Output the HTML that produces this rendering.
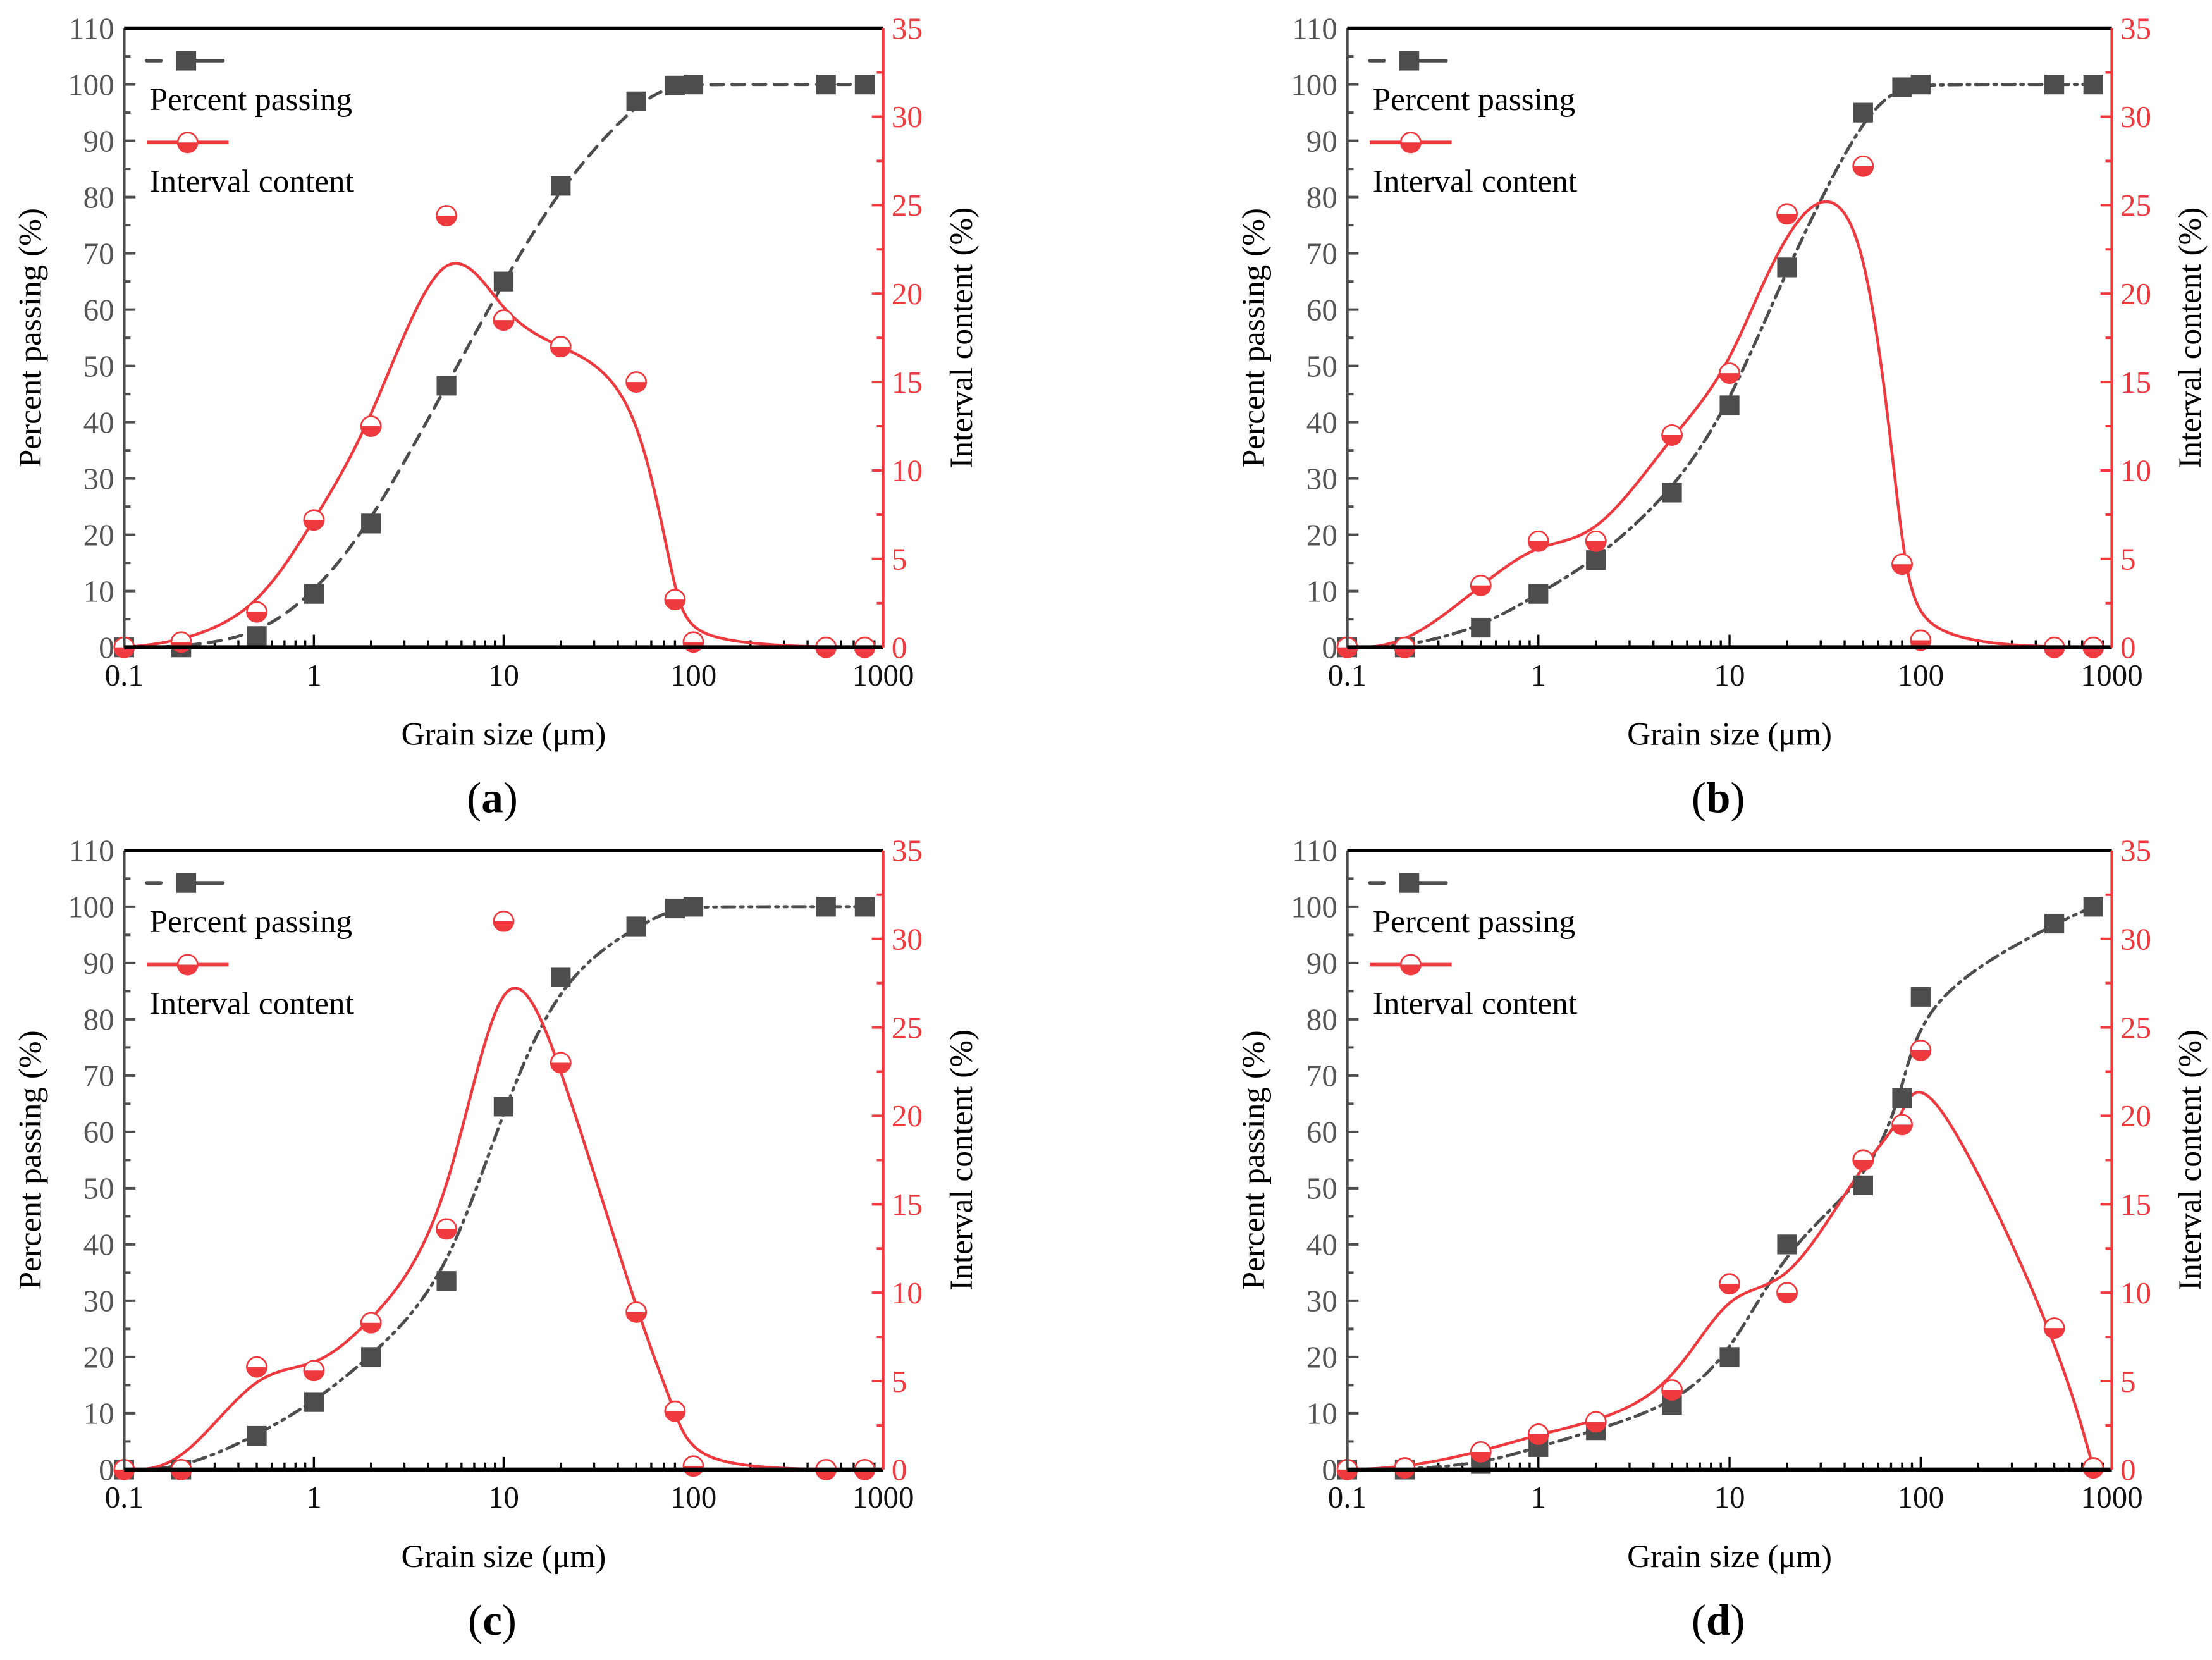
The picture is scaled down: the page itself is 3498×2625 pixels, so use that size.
<!DOCTYPE html>
<html><head><meta charset="utf-8">
<style>
html,body{margin:0;padding:0;background:#fff;}
svg{display:block;}
svg text{font-family:"Liberation Serif","Times New Roman",serif;}
</style></head>
<body>
<svg id="fig" width="3498" height="2625" viewBox="0 0 1568 1177" preserveAspectRatio="none" xmlns="http://www.w3.org/2000/svg" font-family="Liberation Serif, serif"></svg>
<script>
const sizes = [0.1, 0.2, 0.5, 1, 2, 5, 10, 20, 50, 80, 100, 500, 800];
const passA = [0, 0, 2, 9.5, 22, 46.5, 65, 82, 97, 99.8, 100, 100, 100];
const intA = [0, 0.3, 2, 7.2, 12.5, 24.4, 18.5, 17, 15, 2.7, 0.3, 0, 0];
const passB = [0, 0, 3.5, 9.5, 15.5, 27.5, 43, 67.5, 95, 99.5, 100, 100, 100];
const intB = [0, 0, 3.5, 6, 6, 12, 15.5, 24.5, 27.2, 4.7, 0.4, 0, 0];
const passC = [0, 0, 6, 12, 20, 33.5, 64.5, 87.5, 96.5, 99.7, 100, 100, 100];
const intC = [0, 0, 5.8, 5.6, 8.3, 13.6, 31, 23, 8.9, 3.3, 0.2, 0, 0];
const passD = [0, 0, 1, 4, 7, 11.5, 20, 40, 50.5, 66, 84, 97, 100];
const intD = [0, 0.1, 1, 2, 2.7, 4.5, 10.5, 10, 17.5, 19.5, 23.7, 8, 0.1];
const leftTicks = [0, 10, 20, 30, 40, 50, 60, 70, 80, 90, 100, 110];
const rightTicks = [0, 5, 10, 15, 20, 25, 30, 35];
const xTicks = [0.1, 1, 10, 100, 1000];
const xTickLabels = ["0.1", "1", "10", "100", "1000"];

const NS = "http://www.w3.org/2000/svg";
const svg = document.getElementById('fig');
const FF = '"Liberation Serif", serif';
function mk(tag, attrs, parent) {
  const e = document.createElementNS(NS, tag);
  for (const k in attrs) e.setAttribute(k, attrs[k]);
  if (tag === 'text') e.setAttribute('font-family', FF);
  (parent || svg).appendChild(e);
  return e;
}
function bspline(pts) {
  const p = [pts[0], pts[0]].concat(pts).concat([pts[pts.length-1], pts[pts.length-1]]);
  const out = [];
  for (let i = 0; i < p.length - 3; i++) {
    for (let s = 0; s <= 20; s++) {
      const t = s / 20, it = 1 - t;
      const b0 = it*it*it/6, b1 = (3*t*t*t - 6*t*t + 4)/6, b2 = (-3*t*t*t + 3*t*t + 3*t + 1)/6, b3 = t*t*t/6;
      out.push([b0*p[i][0]+b1*p[i+1][0]+b2*p[i+2][0]+b3*p[i+3][0],
                b0*p[i][1]+b1*p[i+1][1]+b2*p[i+2][1]+b3*p[i+3][1]]);
    }
  }
  return out;
}
const panels = [
  {id:'a', L:88, T:20, R:626, B:459, pass:passA, intv:intA, dash:'9,6'},
  {id:'b', L:955, T:20, R:1497, B:459, pass:passB, intv:intB, dash:'9,4,2,4'},
  {id:'c', L:88, T:603, R:626, B:1042, pass:passC, intv:intC, dash:'9,4,2,4,2,4'},
  {id:'d', L:955, T:603, R:1497, B:1042, pass:passD, intv:intD, dash:'9,4,2,4'}
];
const GRAY = '#4d4d4d', RED = '#ee3a3f';
panels.forEach(P => {
  const g = mk('g', {});
  
  
  const W = P.R - P.L, H = P.B - P.T;
  const px = x => P.L + (Math.log10(x) + 1) / 4 * W;
  const py = v => P.B - v / 110 * H;
  const pr = v => P.B - v / 35 * H;
  for (let v = 0; v <= 110; v += 5) {
    const major = v % 10 === 0;
    const t = mk('line', {x1:P.L, x2:P.L + (major ? 8 : 4.5), y1:py(v), y2:py(v), stroke:GRAY, 'stroke-width':1.8}, g);
    
    
  }
  leftTicks.forEach(v => {
    const t = mk('text', {x:P.L - 7, y:py(v) + 7.5, 'font-size':22, fill:'#555', 'text-anchor':'end'}, g);
    t.textContent = v;
    
    
  });
  for (let v = 0; v <= 35; v += 2.5) {
    const major = v % 5 === 0;
    const t = mk('line', {x1:P.R, x2:P.R - (major ? 8 : 4.5), y1:pr(v), y2:pr(v), stroke:RED, 'stroke-width':1.8}, g);
    
    
  }
  rightTicks.forEach(v => {
    const t = mk('text', {x:P.R + 6, y:pr(v) + 7.5, 'font-size':22, fill:RED, 'text-anchor':'start'}, g);
    t.textContent = v;
    
    
  });
  for (let d = -1; d < 3; d++) {
    for (let m = 1; m <= 9; m++) {
      const x = m * Math.pow(10, d);
      const t = mk('line', {x1:px(x), x2:px(x), y1:P.B, y2:P.B - (m === 1 ? 9 : 5), stroke:'#000', 'stroke-width':1.5}, g);
      
      
    }
  }
  xTicks.forEach((x, i) => {
    const t = mk('text', {x:px(x), y:P.B + 27, 'font-size':22, fill:'#111', 'text-anchor':'middle'}, g);
    t.textContent = xTickLabels[i];
    
    
  });
  const pp = bspline(sizes.map((x, i) => [Math.log10(x), P.pass[i]]));
  const pl = mk('polyline', {points: pp.map(q => (P.L + (q[0]+1)/4*W).toFixed(2) + ',' + py(Math.min(q[1],100.2)).toFixed(2)).join(' '), fill:'none', stroke:GRAY, 'stroke-width':2.2, 'stroke-dasharray':P.dash, 'stroke-linecap':'round'}, g);
  
  
  const ip = bspline(sizes.map((x, i) => [Math.log10(x), P.intv[i]]));
  const il = mk('polyline', {points: ip.map(q => (P.L + (q[0]+1)/4*W).toFixed(2) + ',' + pr(Math.max(q[1],0)).toFixed(2)).join(' '), fill:'none', stroke:RED, 'stroke-width':2}, g);
  
  
  sizes.forEach((x, i) => {
    const s = mk('rect', {x:px(x) - 7, y:py(P.pass[i]) - 7, width:14, height:14, fill:GRAY}, g);
    
    
  });
  sizes.forEach((x, i) => {
    const cx = px(x), cy = pr(P.intv[i]);
    const c = mk('g', {}, g);
    
    
    mk('circle', {cx:cx, cy:cy, r:7, fill:'#fff', stroke:RED, 'stroke-width':1.2}, c);
    mk('path', {d:`M${cx-7},${cy} A7,7 0 0 0 ${cx+7},${cy} Z`, fill:RED}, c);
  });
  const fr = [
    ['left-axis', P.L, P.T, P.L, P.B, GRAY, 2],
    ['top-axis', P.L, P.T, P.R, P.T, '#000', 2.6],
    ['bottom-axis', P.L, P.B, P.R, P.B, '#000', 3],
    ['right-axis', P.R, P.T, P.R, P.B, RED, 2]
  ];
  fr.forEach(f => {
    const l = mk('line', {x1:f[1], y1:f[2], x2:f[3], y2:f[4], stroke:f[5], 'stroke-width':f[6]}, g);
    
    
  });
  const lg = mk('g', {}, g);
  
  
  const lx = P.L + 16, ly1 = P.T + 23, ly2 = P.T + 81;
  mk('line', {x1:lx, x2:lx + 56, y1:ly1, y2:ly1, stroke:GRAY, 'stroke-width':2.6, 'stroke-dasharray':'10,14,30', 'stroke-linecap':'round'}, lg);
  mk('rect', {x:lx + 21, y:ly1 - 7, width:14, height:14, fill:GRAY}, lg);
  const t1 = mk('text', {x:lx + 2, y:P.T + 58, 'font-size':23, fill:'#000'}, lg);
  t1.textContent = 'Percent passing';
  
  
  mk('line', {x1:lx, x2:lx + 58, y1:ly2, y2:ly2, stroke:RED, 'stroke-width':2.6}, lg);
  mk('circle', {cx:lx + 29, cy:ly2, r:7, fill:'#fff', stroke:RED, 'stroke-width':1.2}, lg);
  mk('path', {d:`M${lx+22},${ly2} A7,7 0 0 0 ${lx+36},${ly2} Z`, fill:RED}, lg);
  const t2 = mk('text', {x:lx + 2, y:P.T + 116, 'font-size':23, fill:'#000'}, lg);
  t2.textContent = 'Interval content';
  
  
  const cy = (P.T + P.B) / 2;
  const yt = mk('text', {x:0, y:0, 'font-size':23, fill:'#000', 'text-anchor':'middle', transform:`translate(${P.L - 59},${cy}) rotate(-90)`}, g);
  yt.textContent = 'Percent passing (%)';
  
  
  const rt = mk('text', {x:0, y:0, 'font-size':23, fill:'#000', 'text-anchor':'middle', transform:`translate(${P.R + 63},${cy}) rotate(-90)`}, g);
  rt.textContent = 'Interval content (%)';
  
  
  const xt = mk('text', {x:(P.L + P.R) / 2, y:P.B + 69, 'font-size':23, fill:'#000', 'text-anchor':'middle'}, g);
  xt.textContent = 'Grain size (\u03bcm)';
  
  
  const pt = mk('text', {x:(P.L + P.R) / 2 - 8, y:P.B + 117, 'font-size':31, fill:'#000', 'text-anchor':'middle'}, g);
  pt.innerHTML = '(<tspan font-weight="bold">' + P.id + '</tspan>)';
  
  
});
</script>
</body></html>
